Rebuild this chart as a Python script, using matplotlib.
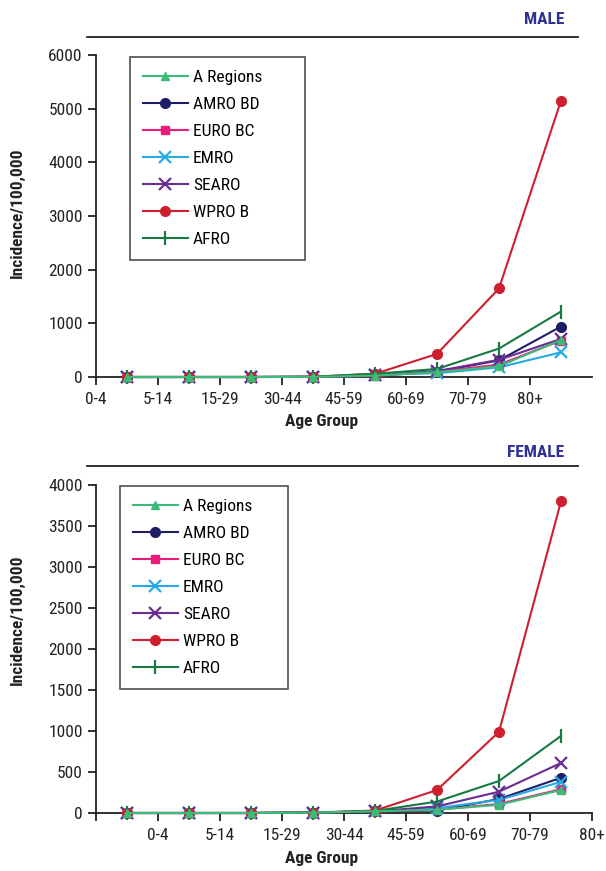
import matplotlib
matplotlib.use("Agg")
import matplotlib.pyplot as plt
from matplotlib import font_manager as fm
import numpy as np

age_groups = ["0-4", "5-14", "15-29", "30-44", "45-59", "60-69", "70-79", "80+"]
series_names = ["A Regions", "AMRO BD", "EURO BC", "EMRO", "SEARO", "WPRO B", "AFRO"]

male_a_regions = [0, 0, 0, 2, 25, 90, 200, 690]
male_amro_bd = [0, 0, 0, 2, 30, 100, 310, 940]
male_euro_bc = [0, 0, 0, 2, 20, 100, 230, 680]
male_emro = [0, 0, 0, 2, 40, 70, 180, 460]
male_searo = [0, 0, 0, 2, 30, 110, 320, 710]
male_wpro_b = [0, 0, 0, 5, 60, 430, 1650, 5150]
male_afro = [0, 0, 0, 5, 60, 150, 530, 1220]

female_a_regions = [0, 0, 0, 5, 20, 40, 100, 280]
female_amro_bd = [0, 0, 0, 5, 20, 30, 170, 430]
female_euro_bc = [0, 0, 0, 5, 20, 40, 110, 290]
female_emro = [0, 0, 0, 5, 20, 60, 160, 380]
female_searo = [0, 0, 0, 5, 20, 80, 260, 610]
female_wpro_b = [0, 0, 0, 5, 30, 280, 990, 3800]
female_afro = [0, 0, 0, 5, 25, 140, 390, 940]

colors = ["#3dbb78", "#1f1d66", "#ec1c7c", "#27aae1", "#6a2c91", "#cf1f2e", "#167a42"]
markers = ["^", "o", "s", "x", "x", "o", "|"]
msizes = [6, 7, 6, 9, 9, 7, 10]

fonts = fm.fontManager.ttflist
def has(name, bold=False):
    for f in fonts:
        if f.name == name and f.style == "normal":
            w = f.weight if isinstance(f.weight, int) else (700 if f.weight == "bold" else 400)
            if (bold and w >= 600) or (not bold and w < 600):
                return True
    return False

cands = ["Liberation Sans Narrow", "Arial Narrow", "Roboto Condensed", "PT Sans Narrow",
         "Archivo Narrow", "Pragati Narrow", "Open Sans Condensed"]
fam = next((c for c in cands if has(c)), "Liberation Sans")
fam_b = next((c for c in cands if has(c, True)), "Liberation Sans")
narrow = fam != "Liberation Sans"
narrow_b = fam_b != "Liberation Sans"
plt.rcParams["font.family"] = [fam, "DejaVu Sans"]
FS = 12.5 if narrow else 11.5
FSB = 12.5 if narrow_b else 11
BFAM = [fam_b, "DejaVu Sans"]

W, H = 606, 871
fig = plt.figure(figsize=(W / 100, H / 100), dpi=100)

def fx(px):
    return px / W

def fy(py):
    return 1 - py / H

def panel(top_px, bot_px, ymax, ystep, data, title, label_offset, title_y, line_y,
          legend_box, ylab_center, xlab_top):
    L, R = 96, 592
    ax = fig.add_axes([fx(L), fy(bot_px), fx(R) - fx(L), fy(top_px) - fy(bot_px)])
    x = np.arange(len(age_groups)) + 0.5
    for i, (name, vals) in enumerate(zip(series_names, data)):
        ax.plot(x, vals, color=colors[i], marker=markers[i], markersize=msizes[i],
                markeredgewidth=1.6 if markers[i] in ("x", "|") else 1.0,
                linewidth=1.5, label=name, clip_on=False, zorder=3 + (i == 0))
    ax.set_xlim(0, 8)
    ax.set_ylim(0, ymax)
    ax.set_yticks(np.arange(0, ymax + 1, ystep))
    if label_offset == 1:
        ax.set_xticks(np.arange(0, 9))
        ax.set_xticklabels([""] + age_groups)
    else:
        ax.set_xticks(np.arange(0, 8))
        ax.set_xticklabels(age_groups)
    for s in ("top", "right"):
        ax.spines[s].set_visible(False)
    for s in ("left", "bottom"):
        ax.spines[s].set_linewidth(1.3)
        ax.spines[s].set_color("#222222")
    ax.tick_params(axis="both", direction="out", length=6, width=1.3, color="#222222",
                   labelsize=FS, labelcolor="#222222")
    ax.tick_params(axis="x", pad=5)
    hpx = bot_px - top_px
    wpx = R - L
    ax.set_xlabel("Age Group", fontsize=FSB, fontweight="bold", color="#222222", family=BFAM)
    ax.xaxis.set_label_coords((322 - L) / wpx, -(xlab_top - bot_px) / hpx)
    ax.set_ylabel("Incidence/100,000", fontsize=FSB, fontweight="bold", color="#222222",
                  family=BFAM)
    ax.yaxis.set_label_coords((25 - L) / wpx, (bot_px - ylab_center) / hpx)
    fig.add_artist(plt.Line2D([fx(87), fx(578)], [fy(line_y), fy(line_y)],
                              color="#222222", linewidth=1.3))
    fig.text(fx(564), fy(title_y), title, ha="right", va="center", fontsize=FSB,
             fontweight="bold", color="#2e3192", family=BFAM)
    lx0, ly0, lx1 = legend_box
    leg = ax.legend(loc="upper left",
                    bbox_to_anchor=((lx0 - L) / wpx, 1 - (ly0 - top_px) / hpx,
                                    (lx1 - lx0) / wpx, 0),
                    mode="expand",
                    frameon=True, fancybox=False, edgecolor="#222222", fontsize=FS,
                    handlelength=2.6, labelspacing=0.69, borderpad=0.72, handletextpad=0.3,
                    borderaxespad=0)
    leg.get_frame().set_linewidth(1.2)
    return ax

male = [male_a_regions, male_amro_bd, male_euro_bc, male_emro, male_searo, male_wpro_b, male_afro]
female = [female_a_regions, female_amro_bd, female_euro_bc, female_emro, female_searo, female_wpro_b, female_afro]

panel(55, 377, 6000, 1000, male, "MALE", 0, 20, 37, (130, 57, 305), 213, 414)
panel(485, 813, 4000, 500, female, "FEMALE", 1, 452, 466, (120, 486, 288), 620, 851)

fig.savefig("out.png", dpi=100)
